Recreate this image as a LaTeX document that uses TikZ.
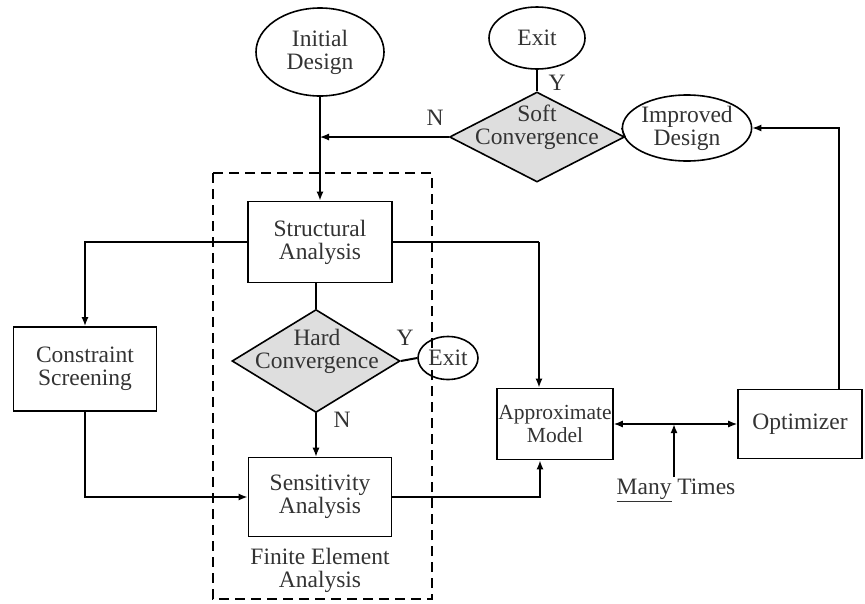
\documentclass[tikz,border=0pt]{standalone}
\usepackage{fontspec}
\setmainfont{Liberation Serif}
\newfontfamily\dfont{Liberation Serif}
\usetikzlibrary{shapes.geometric,arrows.meta,calc}
\begin{document}
\begin{tikzpicture}[x=1pt,y=-1pt,
  txt/.style={font=\dfont\fontsize{23.5}{23}\selectfont, align=center, text=black!80},
  box/.style={txt, draw, line width=1.6pt, inner sep=0pt},
  oval/.style={txt, draw, ellipse, line width=1.6pt, inner sep=0pt},
  dia/.style={draw, diamond, fill=black!13, line width=1.6pt, inner sep=0pt},
  thin/.style={line width=1.2pt},
  thk/.style={line width=2pt},
  tip/.style={-{Latex[length=9pt,width=7pt]}},
  lbl/.style={txt}
]
\useasboundingbox (0,0) rectangle (865,603);
% dashed FE box
\draw[dashed, line width=2.2pt, dash pattern=on 10pt off 6pt] (213,173) rectangle (432,599);
% nodes
\node[oval, minimum width=128, minimum height=88] (init) at (320,52) {Initial\\Design};
\node[oval, minimum width=96, minimum height=62] (exit1) at (537,38) {Exit};
\node[dia, minimum width=175, minimum height=90] (soft) at (537,137) {};
\node[txt] at (537,127) {Soft\\Convergence};
\node[oval, minimum width=104, minimum height=66] (impr) at (687,128) {Improved\\Design};
\node[box, minimum width=144, minimum height=81] (struct) at (320,242) {Structural\\Analysis};
\node[box, minimum width=143, minimum height=84] (cons) at (85,369) {Constraint\\Screening};
\node[dia, minimum width=168, minimum height=103] (hard) at (316,361) {};
\node[txt] at (317,351) {Hard\\Convergence};
\node[oval, minimum width=60, minimum height=43] (exit2) at (448,358) {Exit};
\node[box, minimum width=143, minimum height=79] (sens) at (320,497) {Sensitivity\\Analysis};
\node[txt] (fea) at (320,570) {Finite Element\\Analysis};
\node[box, minimum width=116, minimum height=71, font=\dfont\fontsize{21.5}{23}\selectfont] (approx) at (555,424) {Approximate\\Model};
\node[box, minimum width=124, minimum height=69] (opt) at (800,424) {Optimizer};
\node[txt] (many) at (676,490) {\underline{Many} Times};
% labels
\node[lbl] at (557,83) {Y};
\node[lbl] at (435,118) {N};
\node[lbl] at (405,338) {Y};
\node[lbl] at (342,420) {N};
% connectors
\coordinate (j) at (init.south |- soft.west);
\draw[thk, tip] (init.south) -- (struct.north);
\draw[thin, tip] (soft.west) -- (j);
\draw[thin] (exit1.south) -- (soft.north);
\draw[thin] (soft.east) -- (impr.west);
\draw[thin, tip] ([xshift=39pt]opt.north) |- (impr.east);
\draw[thk, tip] (struct.west) -| (cons.north);
\draw[thin] (struct.south -| hard.north) -- (hard.north);
\draw[thk] (hard.east) -- (exit2.west);
\draw[thin, tip] (hard.south) -- (hard.south |- sens.north);
\draw[thk, tip] (cons.south) |- (sens.west);
\draw[thk, tip] (sens.east) -| ([xshift=-15pt]approx.south);
\coordinate (sa) at (539,242);
\draw[thin] (struct.east) -- (sa);
\draw[thk, tip] (sa) -- ([xshift=-16pt]approx.north);
\draw[thin, {Latex[length=9pt,width=7pt]}-{Latex[length=9pt,width=7pt]}] (approx.east) -- (opt.west);
\coordinate (mt) at (674,424);
\draw[thk, tip] (674,477) -- (mt);
\end{tikzpicture}
\end{document}
